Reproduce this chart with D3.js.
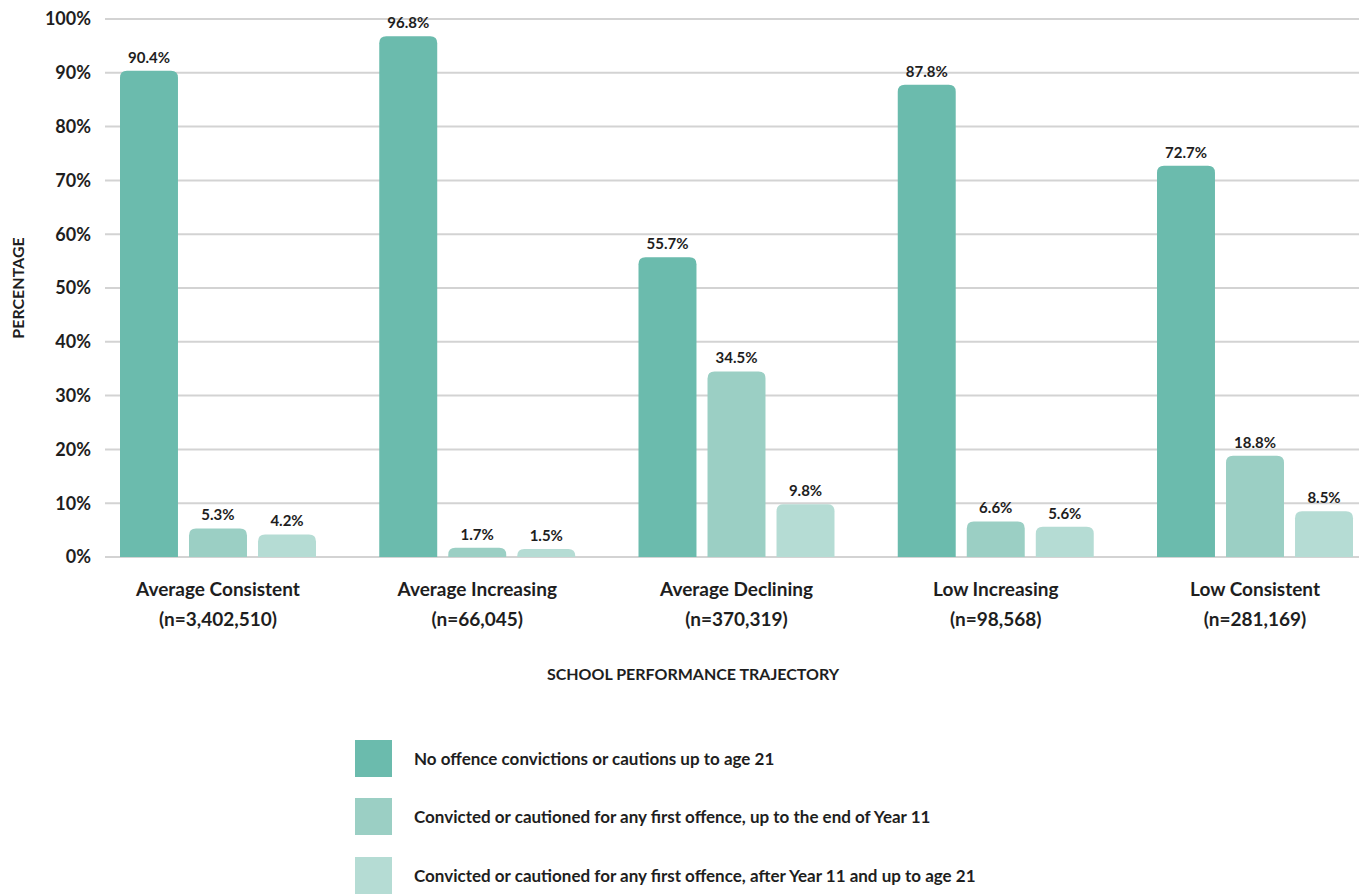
<!DOCTYPE html>
<html>
<head>
<meta charset="utf-8">
<script src="https://cdn.jsdelivr.net/npm/d3@7"></script>
<style>
  html, body { margin: 0; padding: 0; background: #fff; }
  svg { display: block; }
  text { font-family: Lato, "Open Sans", sans-serif; font-weight: 700; fill: #1e1e1e; }
</style>
</head>
<body>
<svg id="chart" width="1359" height="895"></svg>
<script>
// Trajectory groups (two-line labels)
const categories = ["Average Consistent", "Average Increasing", "Average Declining", "Low Increasing", "Low Consistent"];
const sampleSizes = ["(n=3,402,510)", "(n=66,045)", "(n=370,319)", "(n=98,568)", "(n=281,169)"];

// Outcome series
const seriesNames = [
  "No offence convictions or cautions up to age 21",
  "Convicted or cautioned for any first offence, up to the end of Year 11",
  "Convicted or cautioned for any first offence, after Year 11 and up to age 21"
];
const noOffence   = [90.4, 96.8, 55.7, 87.8, 72.7];
const byYear11    = [5.3, 1.7, 34.5, 6.6, 18.8];
const afterYear11 = [4.2, 1.5, 9.8, 5.6, 8.5];
const seriesValues = [noOffence, byYear11, afterYear11];

const yTicks = [0, 10, 20, 30, 40, 50, 60, 70, 80, 90, 100];
const colors = ["#6bbbad", "#9bcfc4", "#b5dcd4"];

const svg = d3.select("#chart");

const y = d3.scaleLinear().domain([0, 100]).range([557, 19]);
const x0 = d3.scaleBand().domain(d3.range(categories.length))
  .range([120, 1353]).paddingInner(0.244).paddingOuter(0);
const x1 = d3.scaleBand().domain(d3.range(seriesNames.length))
  .range([0, x0.bandwidth()]).paddingInner(0.16).paddingOuter(0);

// Gridlines
svg.append("g").selectAll("line").data(yTicks).join("line")
  .attr("x1", 105).attr("x2", 1359)
  .attr("y1", d => y(d)).attr("y2", d => y(d))
  .attr("stroke", "#d3d3d3").attr("stroke-width", 2);

// Y tick labels
svg.append("g").selectAll("text").data(yTicks).join("text")
  .attr("x", 91).attr("y", d => y(d)).attr("dy", "0.35em")
  .attr("text-anchor", "end").attr("font-size", 18)
  .text(d => d + "%");

// Bar path with rounded top corners
function topRounded(x, yTop, w, h, r) {
  r = Math.min(r, h, w / 2);
  return `M${x},${yTop + h}V${yTop + r}Q${x},${yTop} ${x + r},${yTop}` +
         `H${x + w - r}Q${x + w},${yTop} ${x + w},${yTop + r}V${yTop + h}Z`;
}

const groups = svg.append("g").selectAll("g").data(categories).join("g")
  .attr("transform", (d, i) => `translate(${x0(i)},0)`);

groups.each(function(cat, ci) {
  const g = d3.select(this);
  const vals = seriesValues.map((s, si) => ({ si, v: s[ci] }));
  g.selectAll("path").data(vals).join("path")
    .attr("d", d => topRounded(x1(d.si), y(d.v), x1.bandwidth(), y(0) - y(d.v), 7))
    .attr("fill", d => colors[d.si]);
  g.selectAll("text.val").data(vals).join("text")
    .attr("class", "val")
    .attr("x", d => x1(d.si) + x1.bandwidth() / 2)
    .attr("y", d => y(d.v) - 8)
    .attr("text-anchor", "middle").attr("font-size", 15)
    .text(d => d.v.toFixed(1) + "%");
});

// Category labels
const catLabels = svg.append("g").selectAll("g").data(categories).join("g")
  .attr("transform", (d, i) => `translate(${x0(i) + x0.bandwidth() / 2},0)`);
catLabels.append("text").attr("y", 596).attr("text-anchor", "middle")
  .attr("font-size", 19).text(d => d);
catLabels.append("text").attr("y", 626).attr("text-anchor", "middle")
  .attr("font-size", 19).text((d, i) => sampleSizes[i]);

// Axis titles
svg.append("text").attr("x", 693).attr("y", 680).attr("text-anchor", "middle")
  .attr("font-size", 16).text("SCHOOL PERFORMANCE TRAJECTORY");
svg.append("text")
  .attr("transform", "translate(24,288) rotate(-90)")
  .attr("text-anchor", "middle").attr("font-size", 16).text("PERCENTAGE");

// Legend
const legendY = [740, 798, 857];
const legend = svg.append("g").selectAll("g").data(seriesNames).join("g")
  .attr("transform", (d, i) => `translate(355,${legendY[i]})`);
legend.append("rect").attr("width", 37).attr("height", 37)
  .attr("fill", (d, i) => colors[i]);
legend.append("text").attr("x", 59).attr("y", 19).attr("dy", "0.35em")
  .attr("font-size", 17).text(d => d);
</script>
</body>
</html>
